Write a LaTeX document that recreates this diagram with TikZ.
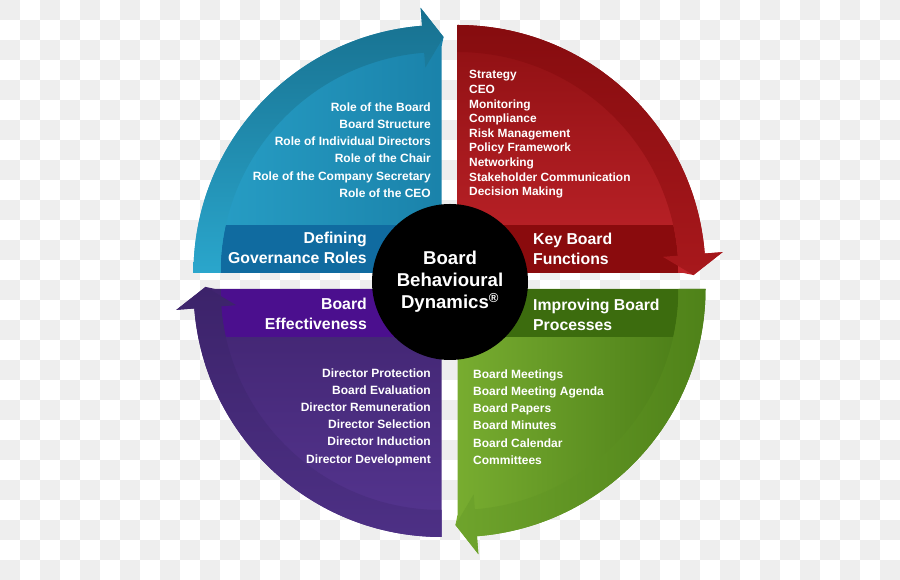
\documentclass[tikz,border=0pt]{standalone}
\usepackage{fontspec}
\setmainfont{Liberation Sans}
\definecolor{checker}{HTML}{EEEEEE}
\definecolor{tealA}{HTML}{28A0C7}
\definecolor{tealB}{HTML}{1A82AA}
\definecolor{tealC}{HTML}{106BA0}
\definecolor{tealD}{HTML}{2AA6CC}
\definecolor{tealE}{HTML}{17708F}
\definecolor{redA}{HTML}{8D0F12}
\definecolor{redB}{HTML}{C0242A}
\definecolor{redC}{HTML}{8A0B0D}
\definecolor{redD}{HTML}{860C0F}
\definecolor{redE}{HTML}{A8181C}
\definecolor{greenA}{HTML}{78AD30}
\definecolor{greenB}{HTML}{487A16}
\definecolor{greenC}{HTML}{3C6C0E}
\definecolor{greenD}{HTML}{6FA42C}
\definecolor{greenE}{HTML}{4F8219}
\definecolor{purpleA}{HTML}{40246F}
\definecolor{purpleB}{HTML}{553590}
\definecolor{purpleC}{HTML}{4B0F8E}
\definecolor{purpleD}{HTML}{3C236A}
\definecolor{purpleE}{HTML}{4D3085}
\begin{document}
\begin{tikzpicture}[x=1pt,y=1pt,line join=round,
  tealbody/.style={left color=tealA,right color=tealB},
  tealtag/.style={fill=tealC},
  tealband/.style={bottom color=tealD,top color=tealE},
  redbody/.style={top color=redA,bottom color=redB},
  redtag/.style={fill=redC},
  redband/.style={top color=redD,bottom color=redE},
  greenbody/.style={left color=greenA,right color=greenB},
  greentag/.style={fill=greenC},
  greenband/.style={left color=greenD,right color=greenE},
  purplebody/.style={top color=purpleA,bottom color=purpleB},
  purpletag/.style={fill=purpleC},
  purpleband/.style={top color=purpleD,bottom color=purpleE},
  tag/.style={text=white,inner sep=0pt,font=\fontsize{15.8}{20}\selectfont\bfseries},
  itemlist/.style={text=white,inner sep=0pt,font=\fontsize{12}{17.2}\selectfont\bfseries}]
  \useasboundingbox (0,0) rectangle (900,580);
  \fill[white] (0,0) rectangle (900,580);
  \begin{scope}
    \clip (0,0) rectangle (900,580);
    \foreach \i in {0,...,44}
      \foreach \j in {0,...,14}
        \fill[checker] ({20*\i},{40*\j+20*mod(\i,2)}) rectangle ++(20,20);
  \end{scope}
  \foreach \cx/\cy/\a/\sx/\sy/\q in {441.5/307/180/-1/1/teal, 457.5/307/90/1/1/red,
      457.5/291/0/1/-1/green, 441.5/291/-90/-1/-1/purple}{
    \begin{scope}[shift={(\cx,\cy)}]
      \path[\q body] (0,0) -- (\a:248) arc[start angle=\a,end angle=\a-85.5,radius=248]
        -- ({\a-85.5}:266) -- ({\a-90.5}:236) -- ({\a-90}:226) -- cycle;
      \begin{scope}
        \clip (0,0) circle (221);
        \fill[\q tag] (0,0) rectangle ({221*\sx},{48*\sy});
      \end{scope}
      \path[\q band] (\a:248) arc[start angle=\a,end angle=\a-85.5,radius=248]
        -- ({\a-85.5}:266) -- ({\a-90.5}:236) -- ({\a-85.5}:206) -- ({\a-85.5}:221)
        arc[start angle=\a-85.5,end angle=\a,radius=221] -- cycle;
    \end{scope}
  }
  \node[circle,fill=black,minimum size=156pt,inner sep=0pt] (hub) at (450,298) {};
  \node[text=white,align=center,font=\fontsize{18.6}{22}\selectfont\bfseries] (hubtext) at (hub)
    {Board\\Behavioural\\Dynamics\textsuperscript{®}};
  \node[tag,anchor=east,align=right] (roletag) at (367,332) {Defining\\Governance Roles};
  \node[tag,anchor=west,align=left] (functag) at (533,331) {Key Board\\Functions};
  \node[tag,anchor=east,align=right] (efftag) at (367,266) {Board\\Effectiveness};
  \node[tag,anchor=west,align=left] (proctag) at (533,265) {Improving Board\\Processes};
  \node[itemlist,anchor=east,align=right] (rolelist) at (431,430)
    {Role of the Board\\Board Structure\\Role of Individual Directors\\Role of the Chair\\Role of the Company Secretary\\Role of the CEO};
  \node[itemlist,anchor=west,align=left,font=\fontsize{11.9}{14.6}\selectfont\bfseries] (funclist) at (469,445.5)
    {Strategy\\CEO\\Monitoring\\Compliance\\Risk Management\\Policy Framework\\Networking\\Stakeholder Communication\\Decision Making};
  \node[itemlist,anchor=east,align=right] (efflist) at (431,163)
    {Director Protection\\Board Evaluation\\Director Remuneration\\Director Selection\\Director Induction\\Director Development};
  \node[itemlist,anchor=west,align=left] (proclist) at (473,163)
    {Board Meetings\\Board Meeting Agenda\\Board Papers\\Board Minutes\\Board Calendar\\Committees};
\end{tikzpicture}
\end{document}
